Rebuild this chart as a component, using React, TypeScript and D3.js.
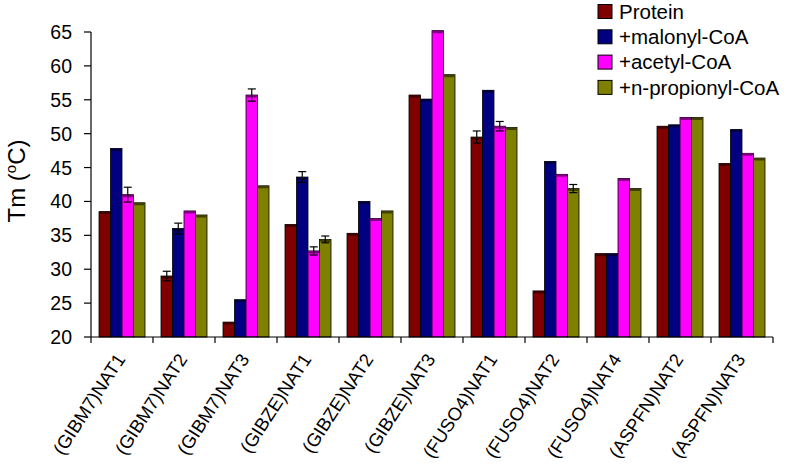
import React from "react";
import * as d3 from "d3";

const categories = [
  "(GIBM7)NAT1", "(GIBM7)NAT2", "(GIBM7)NAT3", "(GIBZE)NAT1", "(GIBZE)NAT2", "(GIBZE)NAT3",
  "(FUSO4)NAT1", "(FUSO4)NAT2", "(FUSO4)NAT4", "(ASPFN)NAT2", "(ASPFN)NAT3",
];
const seriesNames = ["Protein", "+malonyl-CoA", "+acetyl-CoA", "+n-propionyl-CoA"];
const seriesColors = ["#800000", "#000080", "#FF00FF", "#808000"];

const protein = [38.5, 29.0, 22.2, 36.6, 35.3, 55.7, 49.5, 26.8, 32.3, 51.1, 45.6];
const malonyl = [47.8, 36.0, 25.5, 43.6, 40.0, 55.1, 56.4, 45.9, 32.3, 51.3, 50.6];
const acetyl = [41.0, 38.6, 55.7, 32.7, 37.5, 65.2, 51.1, 44.0, 43.4, 52.4, 47.1];
const propionyl = [39.8, 38.0, 42.3, 34.4, 38.6, 58.7, 50.9, 41.9, 41.9, 52.4, 46.4];

const proteinErr = [0, 0.7, 0, 0, 0, 0, 0.9, 0, 0, 0, 0];
const malonylErr = [0, 0.8, 0, 0.8, 0, 0, 0, 0, 0, 0, 0];
const acetylErr = [1.1, 0, 0.9, 0.6, 0, 0, 0.7, 0, 0, 0, 0];
const propionylErr = [0, 0, 0, 0.5, 0, 0, 0, 0.6, 0, 0, 0.0];

const yTicks = [20, 25, 30, 35, 40, 45, 50, 55, 60, 65];

const seriesValues = [protein, malonyl, acetyl, propionyl];
const seriesErrs = [proteinErr, malonylErr, acetylErr, propionylErr];

export default function App() {
  const W = 787, H = 470;
  const left = 91, right = 773, top = 32, bottom = 337;
  const x = d3.scaleBand<string>().domain(categories).range([left, right]).padding(0);
  const inner = d3.scaleBand<number>().domain([0, 1, 2, 3]).range([8, x.bandwidth() - 8]).padding(0);
  const y = d3.scaleLinear().domain([20, 65]).range([bottom, top]);
  const font = "Arial, 'Liberation Sans', sans-serif";

  return (
    <svg width={W} height={H} style={{ position: "absolute", left: 0, top: 0, background: "#fff" }} fontFamily={font}>
      {categories.map((c, gi) => (
        <g key={c} transform={`translate(${x(c)},0)`}>
          {seriesValues.map((vals, si) => {
            const bx = inner(si)!;
            const bw = inner.bandwidth();
            const yt = y(vals[gi]);
            const err = seriesErrs[si][gi];
            const cap = d3.color(seriesColors[si])!.darker(2).toString();
            return (
              <g key={si}>
                <rect x={bx} y={yt} width={bw} height={bottom - yt} fill={seriesColors[si]} stroke="#000" strokeWidth={0.8} />
                <rect x={bx + 0.5} y={yt} width={bw - 1} height={2.5} rx={1.2} fill={cap} />
                {err > 0 && (
                  <g stroke="#000" strokeWidth={1.2}>
                    <line x1={bx + bw / 2} x2={bx + bw / 2} y1={y(vals[gi] - err)} y2={y(vals[gi] + err)} />
                    <line x1={bx + bw / 2 - 4} x2={bx + bw / 2 + 4} y1={y(vals[gi] + err)} y2={y(vals[gi] + err)} />
                    <line x1={bx + bw / 2 - 4} x2={bx + bw / 2 + 4} y1={y(vals[gi] - err)} y2={y(vals[gi] - err)} />
                  </g>
                )}
              </g>
            );
          })}
        </g>
      ))}
      <line x1={left} x2={left} y1={y(65)} y2={bottom} stroke="#000" strokeWidth={1.2} />
      {yTicks.map((t) => (
        <g key={t}>
          <line x1={left - 7} x2={left} y1={y(t)} y2={y(t)} stroke="#000" strokeWidth={1.2} />
          <text x={72} y={y(t)} dy="0.36em" textAnchor="end" fontSize={19.5} fill="#000">{t}</text>
        </g>
      ))}
      <line x1={left} x2={right} y1={bottom} y2={bottom} stroke="#000" strokeWidth={1.2} />
      {[...categories.map((c) => x(c)!), right].map((px, i) => (
        <line key={i} x1={px} x2={px} y1={bottom} y2={bottom + 6} stroke="#000" strokeWidth={1.2} />
      ))}
      {categories.map((c) => {
        const cx = x(c)! + x.bandwidth() / 2 + 4;
        return (
          <text key={c} transform={`translate(${cx},${bottom + 22}) rotate(-57)`} textAnchor="end" fontSize={18.5} fill="#000">
            {c}
          </text>
        );
      })}
      <text transform={`translate(25,181) rotate(-90)`} textAnchor="middle" fontSize={24} fill="#000">
        Tm (<tspan dy={-9} fontSize={15}>o</tspan><tspan dy={9}>C)</tspan>
      </text>
      {seriesNames.map((n, i) => (
        <g key={n} transform={`translate(598,${11.5 + i * 25.3})`}>
          <rect x={0} y={-7} width={14} height={14} fill={seriesColors[i]} stroke="#000" strokeWidth={1} />
          <text x={21} y={0} dy="0.36em" fontSize={20.5} fill="#000">{n}</text>
        </g>
      ))}
    </svg>
  );
}
